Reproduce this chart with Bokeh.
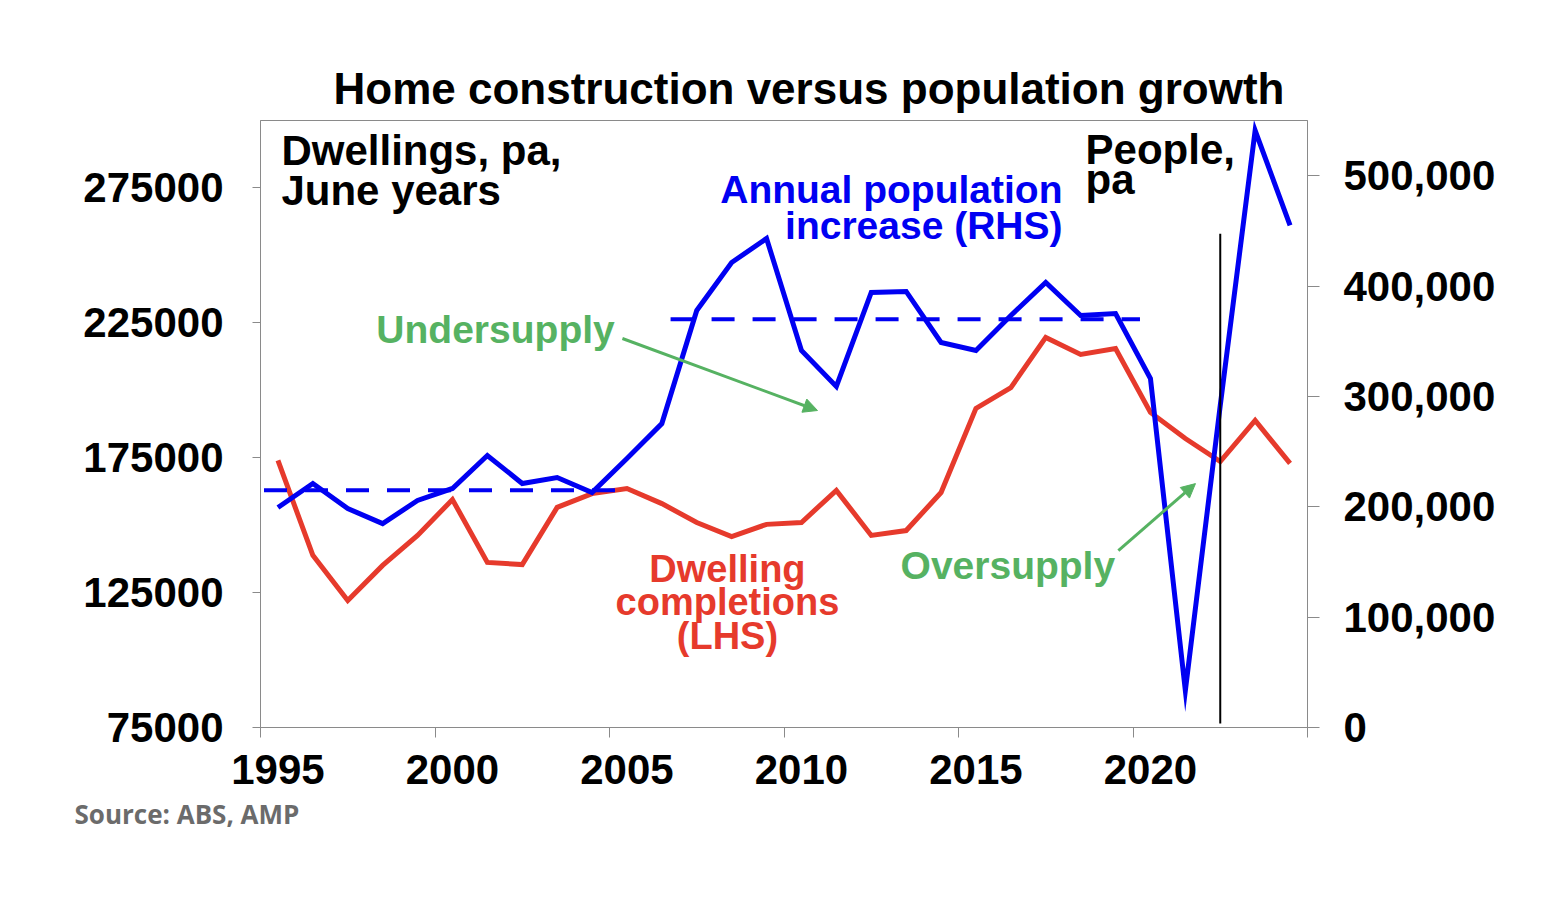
from bokeh.plotting import figure
from bokeh.models import (Range1d, LinearAxis, FixedTicker, NumeralTickFormatter,
                          PrintfTickFormatter, Label, Arrow, NormalHead, Title)
from bokeh.embed import file_html
from bokeh.resources import INLINE

# ---------------- data ----------------
years = list(range(1995, 2025))  # June years
completions = [174000, 138800, 122100, 135100, 146200, 159500, 136200, 135400, 156600, 161700,
               163600, 158000, 151000, 145800, 150300, 151000, 162900, 146200, 148000, 162100,
               193300, 201000, 219600, 213300, 215500, 191800, 182100, 173600, 188800, 172900]
pop_increase = [199300, 221100, 198400, 184800, 205700, 216600, 246500, 221100, 226500, 212900,
                243700, 275400, 377900, 421300, 443100, 341600, 309000, 394200, 395100, 348900,
                341600, 373300, 403200, 373300, 375100, 316200, 33500, 291800, 540900, 454900]
avg_start = [1995.1, 2006.75]
avg_end = [2005.3, 2020.2]
avg_value = [215000, 370000]
marker_year = [2022]
marker_lo = [76500]
marker_hi = [258000]
x_ticks = [1995, 2000, 2005, 2010, 2015, 2020]
x_tick_marks = [1995, 2000, 2005, 2010, 2015, 2020, 2025]
left_ticks = [75000, 125000, 175000, 225000, 275000]
right_ticks = [0, 100000, 200000, 300000, 400000, 500000]

xpos = [y + 0.5 for y in years]
marker_x = [y + 0.5 for y in marker_year]

BLUE = "#0000F2"
RED = "#E63A2C"
GREEN = "#56B262"
FONT = "Liberation Sans"

W, H = 1546, 890
p = figure(width=W, height=H, output_backend="svg", toolbar_location=None,
           x_range=Range1d(1995, 2025), y_range=Range1d(75000, 300000),
           min_border_left=260, min_border_right=W - 1307, min_border_top=120,
           min_border_bottom=H - 727)
p.extra_y_ranges = {"pop": Range1d(0, 550000)}
p.xgrid.visible = False
p.ygrid.visible = False
p.outline_line_color = "#8a8a8a"
p.background_fill_color = "white"
p.border_fill_color = "white"

p.title = Title(text="Home construction versus population growth", align="left", offset=73,
                text_font=FONT, text_font_style="bold", text_font_size="44px",
                text_color="black", standoff=16)
p.add_layout(Title(text="Source: ABS, AMP", align="left", offset=-186, text_font="Open Sans",
                   text_font_style="bold", text_font_size="26px", text_color="#6b6b6b",
                   standoff=15), "below")

def style_axis(ax, tick_out, standoff):
    ax.axis_line_color = "#8a8a8a"
    ax.major_tick_line_color = "#8a8a8a"
    ax.major_tick_in = 0
    ax.major_tick_out = tick_out
    ax.minor_tick_line_color = None
    ax.major_label_text_font = FONT
    ax.major_label_text_font_style = "bold"
    ax.major_label_text_font_size = "42px"
    ax.major_label_text_color = "black"
    ax.major_label_standoff = standoff

# x axis: labels centred on the June-year mid-points, tick marks on year boundaries
xa = p.xaxis[0]
xa.ticker = FixedTicker(ticks=[t + 0.5 for t in x_ticks], minor_ticks=x_tick_marks)
xa.formatter = PrintfTickFormatter(format="%d")
style_axis(xa, 0, 17)
xa.major_tick_line_color = None
xa.minor_tick_line_color = "#8a8a8a"
xa.minor_tick_in = 0
xa.minor_tick_out = 10

ya = p.yaxis[0]
ya.ticker = FixedTicker(ticks=left_ticks)
ya.formatter = NumeralTickFormatter(format="0")
style_axis(ya, 8, 29)

ra = LinearAxis(y_range_name="pop", ticker=FixedTicker(ticks=right_ticks),
                formatter=NumeralTickFormatter(format="0,0"))
style_axis(ra, 12, 24)
p.add_layout(ra, "right")

# lines
p.line(xpos, completions, line_color=RED, line_width=5, line_join="miter")
p.line(xpos, pop_increase, line_color=BLUE, line_width=5, line_join="miter", y_range_name="pop")
p.segment(x0=avg_start, y0=avg_value, x1=avg_end, y1=avg_value, line_color=BLUE,
          line_width=4, line_dash="23 18", y_range_name="pop")
p.segment(x0=marker_x, y0=marker_lo, x1=marker_x, y1=marker_hi, line_color="black", line_width=2)

# arrows
for (xs, ys, xe, ye) in [(2005.37, 219200, 2010.96, 192500), (2019.58, 140600, 2021.79, 165400)]:
    p.add_layout(Arrow(x_start=xs, y_start=ys, x_end=xe, y_end=ye, line_color=GREEN, line_width=3,
                       end=NormalHead(size=14, fill_color=GREEN, line_color=GREEN)))

DY = 4800  # baseline correction

def lab(x, y, text, color="black", size="41px", align="left", font=FONT):
    p.add_layout(Label(x=x, y=y + DY, text=text, text_color=color, text_font=font,
                       text_font_style="bold", text_font_size=size, text_align=align,
                       text_baseline="alphabetic"))

lab(1995.6, 284100, "Dwellings, pa,", size="42px")
lab(1995.6, 269200, "June years", size="42px")
lab(2018.64, 284400, "People,", size="42px")
lab(2018.64, 273300, "pa", size="42px")
lab(2017.98, 269600, "Annual population", BLUE, "39px", "right")
lab(2017.98, 256300, "increase (RHS)", BLUE, "39px", "right")
lab(1998.32, 217700, "Undersupply", GREEN, "39px")
lab(2013.34, 130200, "Oversupply", GREEN, "39px")
lab(2008.38, 128800, "Dwelling", RED, "38px", "center")
lab(2008.38, 116900, "completions", RED, "38px", "center")
lab(2008.38, 104300, "(LHS)", RED, "38px", "center")

open("out.html", "w").write(file_html(p, INLINE))
